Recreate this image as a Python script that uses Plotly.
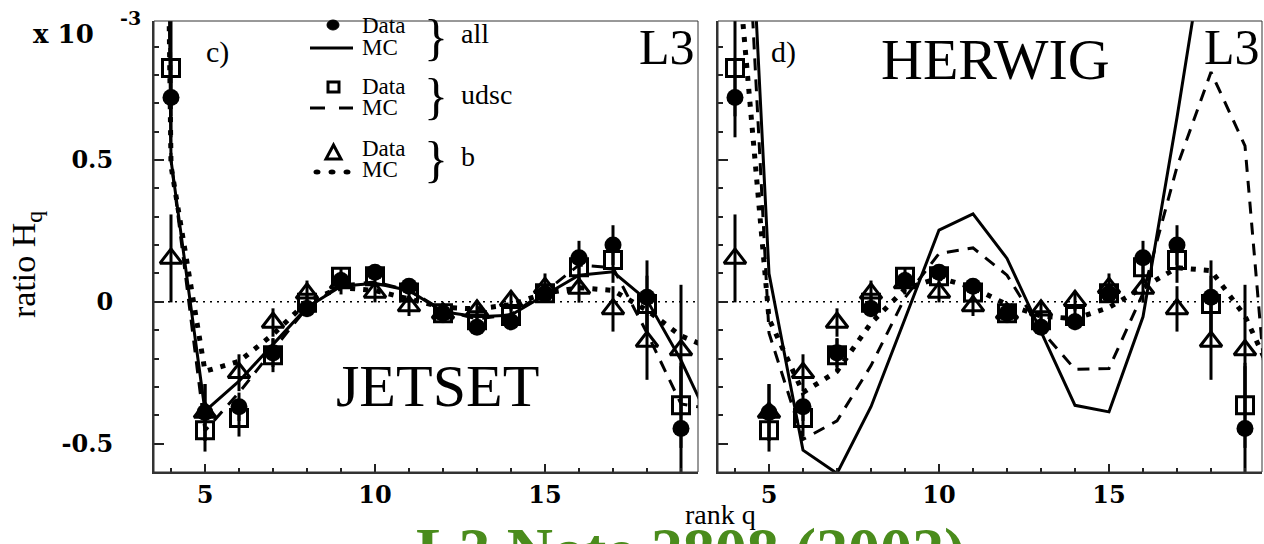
import plotly.graph_objects as go

# ---------------- data ----------------
q = [4, 5, 6, 7, 8, 9, 10, 11, 12, 13, 14, 15, 16, 17, 18, 19]

all_data = [0.72, -0.39, -0.37, -0.18, -0.024, 0.075, 0.104, 0.055, -0.04, -0.09, -0.07, 0.028, 0.155, 0.20, 0.016, -0.447]
all_err = [0.14, 0.10, 0.05, 0.05, 0.03, 0.03, 0.025, 0.025, 0.025, 0.025, 0.03, 0.03, 0.06, 0.07, 0.13, 0.22]

udsc_data = [0.824, -0.453, -0.41, -0.188, -0.003, 0.088, 0.09, 0.033, -0.04, -0.065, -0.05, 0.03, 0.122, 0.147, -0.008, -0.365]
udsc_err = [0.17, 0.075, 0.065, 0.06, 0.03, 0.03, 0.025, 0.025, 0.025, 0.025, 0.03, 0.03, 0.06, 0.08, 0.10, 0.15]

b_data = [0.153, -0.39, -0.25, -0.073, 0.03, 0.066, 0.033, -0.015, -0.04, -0.03, 0.004, 0.05, 0.047, -0.025, -0.14, -0.17]
b_err = [0.155, 0.10, 0.065, 0.05, 0.045, 0.04, 0.035, 0.035, 0.035, 0.035, 0.035, 0.05, 0.05, 0.08, 0.135, 0.23]

mc_q = [3, 4, 5, 6, 7, 8, 9, 10, 11, 12, 13, 14, 15, 16, 17, 18, 19, 20]

jetset_all_mc = [12.0, 0.5, -0.385, -0.28, -0.15, -0.02, 0.055, 0.065, 0.04, -0.035, -0.053, -0.047, 0.024, 0.094, 0.106, 0.006, -0.206, -0.46]
jetset_udsc_mc = [12.0, 0.5, -0.455, -0.32, -0.17, -0.02, 0.06, 0.07, 0.04, -0.03, -0.06, -0.045, 0.035, 0.13, 0.12, -0.11, -0.36, -0.38]
jetset_b_mc = [10.0, 0.48, -0.245, -0.21, -0.115, 0.0, 0.05, 0.04, 0.01, -0.02, -0.025, -0.01, 0.03, 0.05, 0.04, -0.03, -0.12, -0.17]

herwig_all_mc = [5.0, 2.5, 0.1, -0.523, -0.605, -0.37, -0.06, 0.253, 0.31, 0.153, -0.105, -0.365, -0.388, -0.053, 0.65, 1.4, 1.4, 1.4]
herwig_udsc_mc = [5.0, 2.2, -0.11, -0.485, -0.42, -0.225, 0.015, 0.17, 0.19, 0.094, -0.1, -0.238, -0.235, 0.03, 0.476, 0.81, 0.55, -0.85]
herwig_b_mc = [4.0, 1.3, -0.06, -0.32, -0.245, -0.075, 0.045, 0.085, 0.05, -0.01, -0.05, -0.06, -0.02, 0.05, 0.12, 0.11, -0.05, -0.31]

y_tickvals = [-0.5, 0, 0.5]
y_ticktext = ["-0.5", "0", "0.5"]
x_tickvals = [5, 10, 15]
x_ticktext = ["5", "10", "15"]

# ---------------- layout helpers ----------------
W, H = 1264, 544
L, R, T, B = 154, 2, 21, 72
PW, PH = W - L - R, H - T - B


def px(xp):
    return (xp - L) / PW


def py(yp):
    return (H - B - yp) / PH


SOLID = dict(color="black", width=3)
DASH = dict(color="black", width=3, dash="12px,9px")
DOT = dict(color="black", width=5, dash="5px,8px")

fig = go.Figure()


def add_panel(xa, ya, mc_all, mc_udsc, mc_b):
    fig.add_trace(go.Scatter(x=mc_q, y=mc_b, mode="lines", line=DOT, xaxis=xa, yaxis=ya, showlegend=False))
    fig.add_trace(go.Scatter(x=mc_q, y=mc_udsc, mode="lines", line=DASH, xaxis=xa, yaxis=ya, showlegend=False))
    fig.add_trace(go.Scatter(x=mc_q, y=mc_all, mode="lines", line=SOLID, xaxis=xa, yaxis=ya, showlegend=False))
    eb = dict(type="data", thickness=3, width=0, color="black")
    fig.add_trace(go.Scatter(x=q, y=all_data, mode="markers", xaxis=xa, yaxis=ya, showlegend=False,
                             marker=dict(symbol="circle", size=17, color="black"),
                             error_y=dict(array=all_err, **eb)))
    fig.add_trace(go.Scatter(x=q, y=udsc_data, mode="markers", xaxis=xa, yaxis=ya, showlegend=False,
                             marker=dict(symbol="square-open", size=17, color="black", line=dict(width=3)),
                             error_y=dict(array=udsc_err, **eb)))
    fig.add_trace(go.Scatter(x=q, y=b_data, mode="markers", xaxis=xa, yaxis=ya, showlegend=False,
                             marker=dict(symbol="triangle-up-open", size=19, color="black", line=dict(width=3)),
                             error_y=dict(array=b_err, **eb)))


add_panel("x", "y", jetset_all_mc, jetset_udsc_mc, jetset_b_mc)
add_panel("x2", "y2", herwig_all_mc, herwig_udsc_mc, herwig_b_mc)

tickfont = dict(family="DejaVu Serif", size=24, color="black", weight="bold")

xcommon = dict(range=[3.5, 19.5], tickmode="array", tickvals=x_tickvals, ticktext=x_ticktext,
               ticks="inside", ticklen=8, tickwidth=1.5, tickcolor="#222",
               showline=True, linewidth=2, linecolor="#333", showgrid=False, zeroline=False,
               minor=dict(tickmode="linear", tick0=0, dtick=1, ticks="inside", ticklen=4, tickwidth=1.5,
                          tickcolor="#222", showgrid=False),
               tickfont=tickfont)
ycommon = dict(range=[-0.6, 0.99], tickmode="array", tickvals=y_tickvals, ticktext=y_ticktext,
               ticks="inside", ticklen=10, tickwidth=1.5, tickcolor="#222",
               showline=True, linewidth=2, linecolor="#333", showgrid=False, zeroline=False,
               minor=dict(tickmode="linear", tick0=0, dtick=0.1, ticks="inside", ticklen=5, tickwidth=1.5,
                          tickcolor="#222", showgrid=False),
               tickfont=tickfont)

d1 = [0, 544 / PW]
d2 = [564 / PW, 1]

fig.update_layout(
    width=W, height=H,
    margin=dict(l=L, r=R, t=T, b=B),
    paper_bgcolor="white", plot_bgcolor="white",
    font=dict(family="Liberation Serif", color="black"),
    xaxis=dict(domain=d1, anchor="y", **xcommon),
    yaxis=dict(domain=[0, 1], anchor="x", ticklabelstandoff=34, **ycommon),
    xaxis2=dict(domain=d2, anchor="y2", **xcommon),
    yaxis2=dict(domain=[0, 1], anchor="x2", showticklabels=False, **ycommon),
)

shapes = []
for xa, ya in (("x", "y"), ("x2", "y2")):
    shapes.append(dict(type="rect", xref=f"{xa} domain", yref=f"{ya} domain", x0=0, x1=1, y0=0, y1=1,
                       line=dict(color="#333", width=1), layer="above"))
    shapes.append(dict(type="line", xref=f"{xa} domain", yref=ya, x0=0, x1=1, y0=0, y1=0,
                       line=dict(color="black", width=1.5, dash="2px,5px"), layer="below"))

# legend glyphs (layout decorations)
shapes.append(dict(type="circle", xref="paper", yref="paper", x0=px(327), x1=px(339), y0=py(30), y1=py(20),
                   fillcolor="black", line=dict(color="black", width=1)))
shapes.append(dict(type="line", xref="paper", yref="paper", x0=px(310), x1=px(353), y0=py(48), y1=py(48),
                   line=dict(color="black", width=3)))
shapes.append(dict(type="rect", xref="paper", yref="paper", x0=px(328), x1=px(339), y0=py(92), y1=py(82),
                   line=dict(color="black", width=3)))
shapes.append(dict(type="line", xref="paper", yref="paper", x0=px(310), x1=px(325), y0=py(108), y1=py(108),
                   line=dict(color="black", width=3)))
shapes.append(dict(type="line", xref="paper", yref="paper", x0=px(339), x1=px(353), y0=py(108), y1=py(108),
                   line=dict(color="black", width=3)))
tri = f"M {px(326)},{py(159)} L {px(341)},{py(159)} L {px(333.5)},{py(145)} Z"
shapes.append(dict(type="path", xref="paper", yref="paper", path=tri, line=dict(color="black", width=3)))
for cx in (317, 332, 347):
    shapes.append(dict(type="circle", xref="paper", yref="paper", x0=px(cx - 3.5), x1=px(cx + 3.5),
                       y0=py(174.5), y1=py(169.5), fillcolor="black", line=dict(color="black", width=0)))
fig.update_layout(shapes=shapes)

ann = []


def text(xp, yp, s, size, xanchor="left", yanchor="middle", family="Liberation Serif", weight="normal",
         color="black", angle=0):
    ann.append(dict(xref="paper", yref="paper", x=px(xp), y=py(yp), text=s, showarrow=False,
                    xanchor=xanchor, yanchor=yanchor, textangle=angle, borderpad=0,
                    font=dict(family=family, size=size, color=color, weight=weight)))


text(32, 34, "x 10", 26, family="DejaVu Serif", weight="bold")
text(119, 18, "-3", 19, family="DejaVu Serif", weight="bold")
text(26, 265, "ratio H<sub>q</sub>", 34, xanchor="center", angle=-90)
text(205, 52, "c)", 30)
text(770, 52, "d)", 30)
text(696, 47, "L3", 50, xanchor="right")
text(1261, 47, "L3", 50, xanchor="right")
text(437, 386, "JETSET", 60, xanchor="center")
text(995, 60, "HERWIG", 58, xanchor="center")

for yy, s in ((25, "Data"), (48, "MC"), (86, "Data"), (107, "MC"), (148, "Data"), (170, "MC")):
    text(361, yy, s, 23)
for yy in (36.5, 96.5, 159):
    text(436, yy, "}", 50, xanchor="center")
text(460, 33, "all", 28)
text(460, 94, "udsc", 28)
text(460, 157, "b", 28)

text(720, 514, "rank q", 28, xanchor="center")
text(690, 514, "L3 Note 2808 (2002)", 64, xanchor="center", yanchor="top", weight="bold", color="#4a8c1c")

fig.update_layout(annotations=ann)

fig.write_html(
    "out.html",
    config={"displayModeBar": False},
    post_script=(
        "document.documentElement.style.overflow='hidden';"
        "document.body.style.overflow='hidden';"
        "document.body.style.margin='0';"
    ),
)
